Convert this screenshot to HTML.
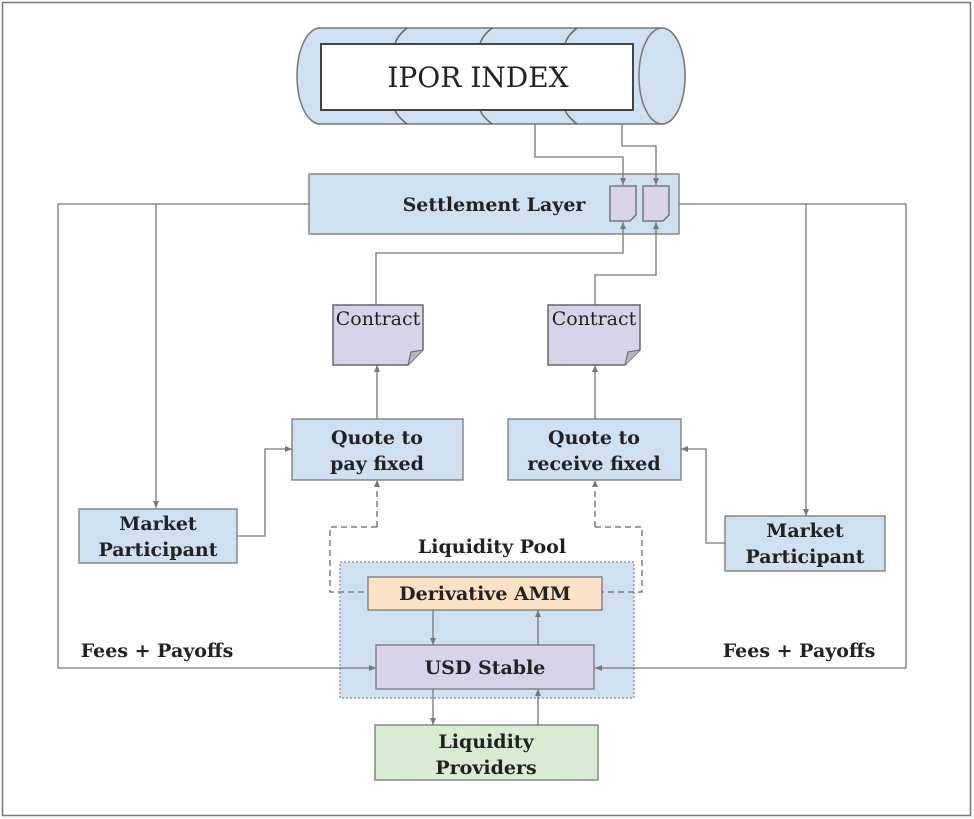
<!DOCTYPE html>
<html><head><meta charset="utf-8"><style>
html,body{margin:0;padding:0;background:#fff;}
svg{display:block;}
text{font-family:"DejaVu Serif","Liberation Serif",serif;fill:#222;}
.b{font-weight:bold;font-size:19px;}
</style></head><body>
<svg width="974" height="819" viewBox="0 0 974 819" xmlns="http://www.w3.org/2000/svg">
<defs>
<marker id="a" markerWidth="8" markerHeight="8" refX="7" refY="4" orient="auto" markerUnits="userSpaceOnUse">
<path d="M0,1 L7,4 L0,7 z" fill="#777"/></marker>
</defs>
<rect x="2.5" y="2.5" width="968" height="813" fill="#fff" stroke="#777" stroke-width="1.5"/>

<!-- cylinder -->
<path d="M320,28 L662,28 A23,48 0 0 1 662,124 L320,124 A23,48 0 0 1 320,28 z" fill="#cfe0f1" stroke="#777" stroke-width="1.5"/>
<ellipse cx="662" cy="76" rx="23" ry="48" fill="#cfe0f1" stroke="#777" stroke-width="1.5"/>
<path d="M407,28 q-10,8 -12,16 M407,124 q-10,-8 -12,-14 M492,28 q-10,8 -12,16 M492,124 q-10,-8 -12,-14 M577,28 q-10,8 -12,16 M577,124 q-10,-8 -12,-14" fill="none" stroke="#666" stroke-width="1.5"/>
<rect x="321" y="44" width="312" height="66" fill="#fff" stroke="#444" stroke-width="2"/>
<text x="478" y="87" font-size="28" text-anchor="middle">IPOR INDEX</text>

<!-- settlement -->
<rect x="309" y="174" width="370" height="60" fill="#cfe0f1" stroke="#777" stroke-width="1.3"/>
<text x="494" y="211" class="b" text-anchor="middle">Settlement Layer</text>
<path d="M610,186 H636 V215 L630,221 H610 z" fill="#d9d3e9" stroke="#666" stroke-width="1.3"/>
<path d="M643,186 H669 V215 L663,221 H643 z" fill="#d9d3e9" stroke="#666" stroke-width="1.3"/>

<!-- liquidity pool -->
<text x="492" y="553" class="b" text-anchor="middle">Liquidity Pool</text>
<rect x="340" y="562" width="294" height="136" fill="#cfe0f1" stroke="#888" stroke-width="1.2" stroke-dasharray="2,2"/>

<!-- connectors -->
<g fill="none" stroke="#777" stroke-width="1.3">
<path d="M535,124 V157 H623 V185" marker-end="url(#a)"/>
<path d="M622,124 V146 H656 V185" marker-end="url(#a)"/>
<path d="M376,305 V253 H623 V222" marker-end="url(#a)"/>
<path d="M595,305 V275 H656 V222" marker-end="url(#a)"/>
<path d="M309,204 H58 V668 H376" marker-end="url(#a)"/>
<path d="M156,204 V508" marker-end="url(#a)"/>
<path d="M679,204 H906 V668 H595" marker-end="url(#a)"/>
<path d="M806,204 V516" marker-end="url(#a)"/>
<path d="M237,536 H265 V449 H292" marker-end="url(#a)"/>
<path d="M725,543 H706 V449 H681" marker-end="url(#a)"/>
<path d="M377,419 V365" marker-end="url(#a)"/>
<path d="M595,419 V365" marker-end="url(#a)"/>
</g>

<!-- contracts -->
<path d="M333,305 H423 V350 L408,365 H333 z" fill="#d9d3e9" stroke="#666" stroke-width="1.5"/>
<path d="M408,365 L411,352 L423,350" fill="#b9b3c9" stroke="#666" stroke-width="1"/>
<text x="378" y="325" font-size="19" text-anchor="middle">Contract</text>
<path d="M548,305 H640 V350 L625,365 H548 z" fill="#d9d3e9" stroke="#666" stroke-width="1.5"/>
<path d="M625,365 L628,352 L640,350" fill="#b9b3c9" stroke="#666" stroke-width="1"/>
<text x="594" y="325" font-size="19" text-anchor="middle">Contract</text>

<!-- quotes -->
<rect x="292" y="419" width="171" height="61" fill="#cfe0f1" stroke="#777" stroke-width="1.3"/>
<text x="377" y="444" class="b" text-anchor="middle">Quote to</text>
<text x="377" y="470" class="b" text-anchor="middle">pay fixed</text>
<rect x="508" y="419" width="173" height="61" fill="#cfe0f1" stroke="#777" stroke-width="1.3"/>
<text x="594" y="444" class="b" text-anchor="middle">Quote to</text>
<text x="594" y="470" class="b" text-anchor="middle">receive fixed</text>

<!-- market participants -->
<rect x="79" y="509" width="158" height="54" fill="#cfe0f1" stroke="#777" stroke-width="1.3"/>
<text x="158" y="530" class="b" text-anchor="middle">Market</text>
<text x="158" y="556" class="b" text-anchor="middle">Participant</text>
<rect x="725" y="516" width="160" height="55" fill="#cfe0f1" stroke="#777" stroke-width="1.3"/>
<text x="805" y="537" class="b" text-anchor="middle">Market</text>
<text x="805" y="563" class="b" text-anchor="middle">Participant</text>

<g fill="none" stroke="#666" stroke-width="1.3" stroke-dasharray="6,4">
<path d="M377,527 V480" marker-end="url(#a)"/>
<path d="M377,527 H330 V592 H368"/>
<path d="M595,527 V480" marker-end="url(#a)"/>
<path d="M595,527 H642 V592 H602"/>
</g>
<rect x="368" y="577" width="234" height="33" fill="#fbe1c6" stroke="#777" stroke-width="1.3"/>
<text x="485" y="600" class="b" text-anchor="middle">Derivative AMM</text>
<rect x="376" y="645" width="218" height="44" fill="#d9d3e9" stroke="#777" stroke-width="1.3"/>
<text x="485" y="674" class="b" text-anchor="middle">USD Stable</text>
<rect x="375" y="725" width="223" height="55" fill="#d8ebd3" stroke="#777" stroke-width="1.3"/>
<text x="486" y="748" class="b" text-anchor="middle">Liquidity</text>
<text x="486" y="774" class="b" text-anchor="middle">Providers</text>
<g fill="none" stroke="#777" stroke-width="1.3">
<path d="M433,610 V645" marker-end="url(#a)"/>
<path d="M538,645 V610" marker-end="url(#a)"/>
<path d="M433,689 V725" marker-end="url(#a)"/>
<path d="M538,725 V689" marker-end="url(#a)"/>
</g>

<text x="157" y="657" class="b" text-anchor="middle">Fees + Payoffs</text>
<text x="799" y="657" class="b" text-anchor="middle">Fees + Payoffs</text>
</svg>
</body></html>
